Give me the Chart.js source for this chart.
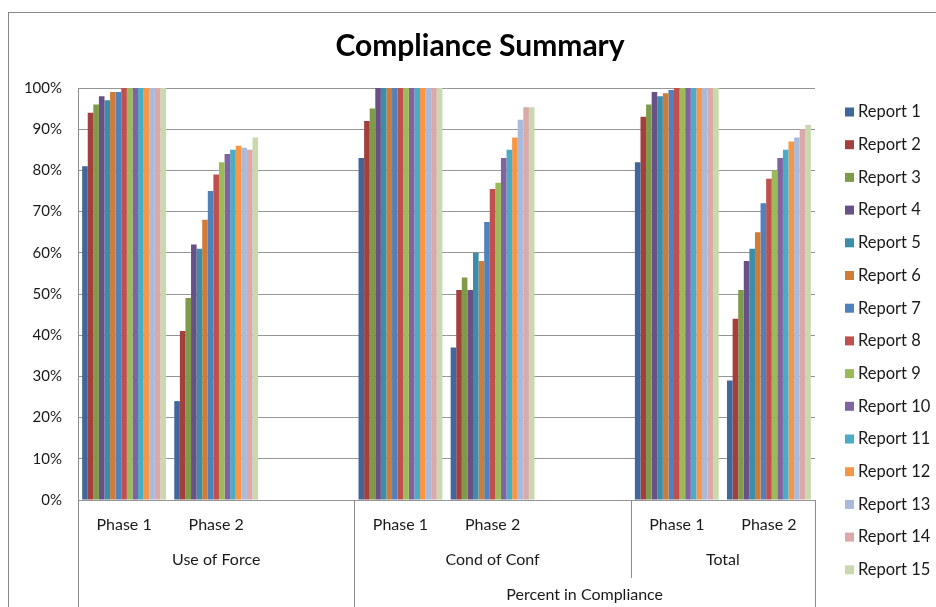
<!DOCTYPE html>
<html>
<head>
<meta charset="utf-8">
<script src="https://cdn.jsdelivr.net/npm/chart.js@4/dist/chart.umd.min.js"></script>
<style>
  html, body { margin: 0; padding: 0; background: #fff; }
  #wrap { position: relative; width: 936px; height: 607px; }
  #frame { position: absolute; left: 8px; top: 12px; width: 1000px; height: 700px;
           border-left: 1px solid #888; border-top: 1px solid #888; }
  canvas { position: absolute; left: 0; top: 0; }
</style>
</head>
<body>
<div id="wrap">
  <div id="frame"></div>
  <canvas id="chart" width="936" height="607"></canvas>
</div>
<script>
// categories (slot 3 and 6 are empty, like the sheet)
const phaseLabels = ["Phase 1", "Phase 2", "", "Phase 1", "Phase 2", "", "Phase 1", "Phase 2"];
const groupLabels = ["Use of Force", "Cond of Conf", "Total"];
const groupStart = [0, 3, 6];
const groupEnd = [2, 5, 7];
const topLabel = "Percent in Compliance";
const topStart = 3;
const topEnd = 7;

const yTicks = [0, 10, 20, 30, 40, 50, 60, 70, 80, 90, 100];

const reportNames = ["Report 1", "Report 2", "Report 3", "Report 4", "Report 5", "Report 6", "Report 7",
  "Report 8", "Report 9", "Report 10", "Report 11", "Report 12", "Report 13", "Report 14", "Report 15"];

// percent in compliance per report
const report1  = [81, 24, null, 83, 37, null, 82, 29];
const report2  = [94, 41, null, 92, 51, null, 93, 44];
const report3  = [96, 49, null, 95, 54, null, 96, 51];
const report4  = [98, 62, null, 100, 51, null, 99, 58];
const report5  = [97, 61, null, 100, 60, null, 98, 61];
const report6  = [99, 68, null, 100, 58, null, 98.7, 65];
const report7  = [99, 75, null, 100, 67.5, null, 99.5, 72];
const report8  = [100, 79, null, 100, 75.5, null, 100, 78];
const report9  = [100, 82, null, 100, 77, null, 100, 80];
const report10 = [100, 84, null, 100, 83, null, 100, 83];
const report11 = [100, 85, null, 100, 85, null, 100, 85];
const report12 = [100, 86, null, 100, 88, null, 100, 87];
const report13 = [100, 85.5, null, 100, 92.3, null, 100, 88];
const report14 = [100, 85, null, 100, 95.3, null, 100, 90];
const report15 = [100, 88, null, 100, 95.3, null, 100, 91];

const allReports = [report1, report2, report3, report4, report5, report6, report7, report8,
  report9, report10, report11, report12, report13, report14, report15];

const colors = ["#3f679b", "#a3403d", "#7f9b4a", "#685187", "#3c8ea8", "#d07b36",
  "#4f81bd", "#c0504d", "#9bbb59", "#8064a2", "#4bacc6", "#f79646",
  "#a9badb", "#daa9a8", "#c8d9b0"];

const FONT = "Lato, 'Open Sans', sans-serif";

// titel, legenda dan label kategori bertingkat
const extras = {
  id: "extras",
  afterDraw(c) {
    const ctx = c.ctx;
    const x = c.scales.x;
    const area = c.chartArea;
    const edge = (i) => {
      if (i <= 0) return area.left;
      if (i >= phaseLabels.length) return area.right;
      return (x.getPixelForValue(i - 1) + x.getPixelForValue(i)) / 2;
    };
    ctx.save();
    ctx.strokeStyle = "#8c8c8c";
    ctx.lineWidth = 1;
    // left axis line down to bottom
    ctx.beginPath();
    ctx.moveTo(Math.round(area.left) + 0.5, area.top);
    ctx.lineTo(Math.round(area.left) + 0.5, 607);
    ctx.stroke();
    // group separators
    ctx.beginPath();
    for (let g = 0; g < groupStart.length; g++) {
      const xs = Math.round(edge(groupEnd[g] + 1)) + 0.5;
      const full = (groupEnd[g] + 1 === topStart) || (groupEnd[g] + 1 > topEnd);
      ctx.moveTo(xs, area.bottom);
      ctx.lineTo(xs, full ? 607 : 578);
    }
    ctx.stroke();

    ctx.fillStyle = "#1a1a1a";
    ctx.font = "16px " + FONT;
    ctx.textAlign = "center";
    ctx.textBaseline = "middle";
    for (let g = 0; g < groupLabels.length; g++) {
      const cx = (edge(groupStart[g]) + edge(groupEnd[g] + 1)) / 2;
      ctx.fillText(groupLabels[g], cx, 560);
    }
    ctx.fillText(topLabel, (edge(topStart) + edge(topEnd + 1)) / 2, 595);

    // title
    ctx.fillStyle = "#000";
    ctx.font = "bold 30px " + FONT;
    ctx.fillText("Compliance Summary", 480, 46);

    // legend
    ctx.font = "16.5px " + FONT;
    ctx.textAlign = "left";
    c.data.datasets.forEach((ds, i) => {
      const y = 112 + i * 32.7;
      ctx.fillStyle = ds.backgroundColor;
      ctx.fillRect(845, y - 4.5, 9, 9);
      ctx.fillStyle = "#1a1a1a";
      ctx.fillText(ds.label, 858, y);
    });
    ctx.restore();
  }
};

const ctx = document.getElementById("chart").getContext("2d");

new Chart(ctx, {
  type: "bar",
  data: {
    labels: phaseLabels,
    datasets: allReports.map((d, i) => ({
      label: reportNames[i],
      data: d,
      backgroundColor: colors[i],
      borderWidth: 0,
      categoryPercentage: 0.91,
      barPercentage: 1.0
    }))
  },
  options: {
    responsive: false,
    animation: false,
    layout: { padding: { top: 88, right: 121, bottom: 0, left: 0 } },
    plugins: {
      legend: { display: false },
      title: { display: false },
      tooltip: { enabled: false }
    },
    scales: {
      x: {
        grid: { display: false },
        border: { display: false },
        ticks: {
          autoSkip: false,
          maxRotation: 0,
          padding: 7,
          color: "#1a1a1a",
          font: { family: FONT, size: 16 }
        },
        afterFit(s) { s.height = 107; }
      },
      y: {
        min: 0,
        max: 100,
        afterBuildTicks(s) { s.ticks = yTicks.map(v => ({ value: v })); },
        grid: { color: "#969696", drawTicks: false },
        border: { display: false },
        ticks: {
          padding: 16,
          color: "#1a1a1a",
          font: { family: FONT, size: 15 },
          callback: v => v + "%"
        },
        afterFit(s) { s.width = 78; }
      }
    }
  },
  plugins: [extras]
});
</script>
</body>
</html>
